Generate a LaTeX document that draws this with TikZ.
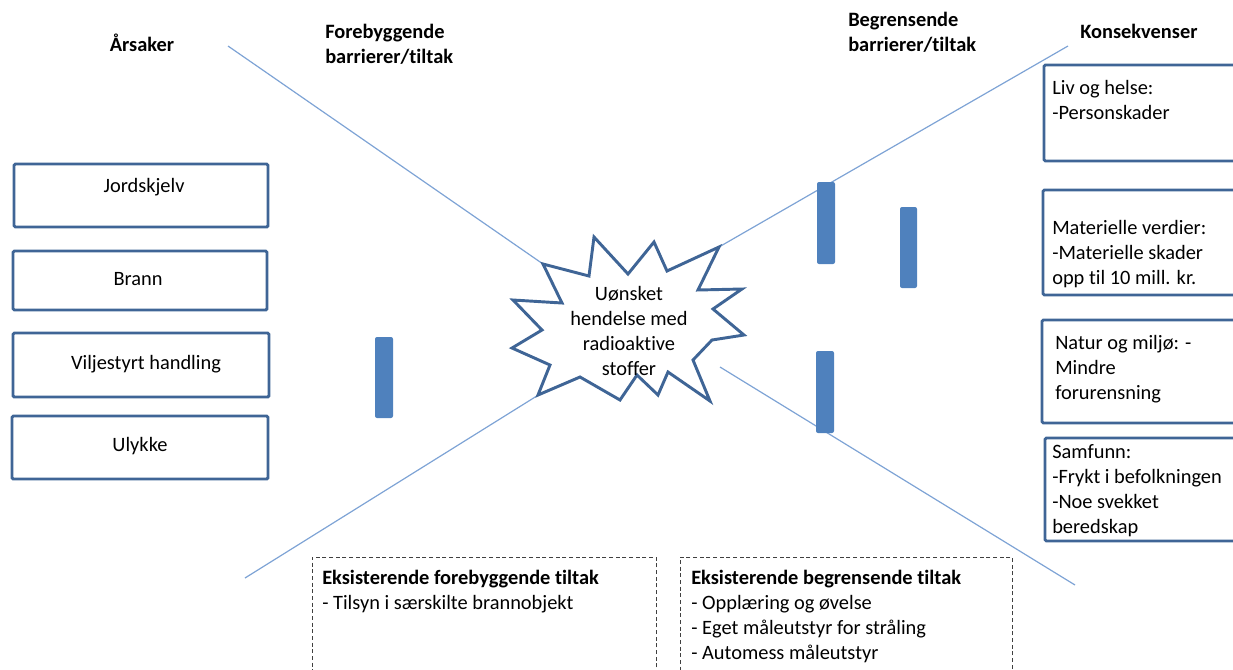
\documentclass[tikz,border=0pt]{standalone}
\usepackage{fontspec}
\setmainfont[Ligatures=NoCommon]{Carlito}
\usepackage{tikz}
\usetikzlibrary{fit}
\definecolor{boxblue}{HTML}{3F6596}
\definecolor{barblue}{HTML}{4F81BD}
\definecolor{lineblue}{HTML}{7EA3D5}

\begin{document}
\begin{tikzpicture}[x=0.75pt, y=-0.75pt, font=\fontsize{15.3}{18.75}\selectfont,
		box_style/.style={draw=boxblue, line width=2.2pt, rounded corners=1pt, inner sep=0pt},
		bar_style/.style={fill=barblue, draw=none, rounded corners=1.5pt, inner sep=0pt},
		dash_style/.style={draw=black!75, line width=0.7pt, dash pattern=on 3pt off 2pt, inner sep=0pt},
		line_style/.style={draw=lineblue, line width=0.9pt},
		star_style/.style={draw=boxblue, fill=white, line width=2.2pt},
		head_style/.style={font=\fontsize{15.3}{18.75}\selectfont\bfseries, inner sep=0pt, align=left, anchor=base west},
		text_style/.style={inner sep=0pt, align=left, anchor=base west}]
		\useasboundingbox (0,0) rectangle (1233,669);
		\clip (0,0) rectangle (1233,669);

		% headings
		\node[head_style, anchor=base] (arsaker) at (142,51) {Årsaker};
		\node[head_style] (forebyg) at (325,63) {Forebyggende\\barrierer/tiltak};
		\node[head_style] (begrens) at (848,51) {Begrensende\\barrierer/tiltak};
		\node[head_style] (konsek) at (1080,38) {Konsekvenser};

		% diagonals
		\coordinate (c_tl) at (228,46);
		\coordinate (c_bl) at (245,578);
		\coordinate (c_tr) at (1068,46);
		\coordinate (c_br) at (1075,585);
		\coordinate (st_tl) at (543,264);
		\coordinate (st_bl) at (540,394);
		\coordinate (st_tr) at (719,247);
		\coordinate (st_br) at (720,367);
		\draw[line_style] (c_tl) -- (st_tl);
		\draw[line_style] (c_bl) -- (st_bl);
		\draw[line_style] (c_tr) -- (st_tr);
		\draw[line_style] (c_br) -- (st_br);

		% event
		\draw[star_style] (543,264) -- (589,276) -- (594,237) -- (628,274) -- (654,242) -- (667,271)
			-- (719,247) -- (698,290) -- (742,289) -- (713,309) -- (744,335) -- (712,340) -- (693,360)
			-- (710,401) -- (668,372) -- (658,395) -- (637,375) -- (620,400) -- (580,377) -- (538,395)
			-- (550,365) -- (512,348) -- (542,330) -- (513,300) -- (562,303) -- cycle;
		\node[inner sep=0pt, align=center] (event) at (629,331) {Uønsket\\hendelse med\\radioaktive\\stoffer};

		% barriers
		\node[bar_style, fit={(375,337) (393,418)}] (bar1) {};
		\node[bar_style, fit={(817,182) (835,264)}] (bar2) {};
		\node[bar_style, fit={(900,207) (917,288)}] (bar3) {};
		\node[bar_style, fit={(816,351) (834,433)}] (bar4) {};

		% causes
		\node[box_style, fit={(14,164) (268,227)}] (jord) {};
		\node[box_style, fit={(13,251) (267,310)}] (brann) {};
		\node[box_style, fit={(13,333) (269,397)}] (vilje) {};
		\node[box_style, fit={(12,416) (268,479)}] (ulykke) {};
		\node[inner sep=0pt] (jord_t) at (144,187) {Jordskjelv};
		\node[inner sep=0pt] (brann_t) at (138,279) {Brann};
		\node[inner sep=0pt] (vilje_t) at (146,364) {Viljestyrt handling};
		\node[inner sep=0pt] (ulykke_t) at (140,446) {Ulykke};

		% consequences
		\node[box_style, fit={(1044,65) (1245,161)}] (liv) {};
		\node[box_style, fit={(1043,190) (1245,295)}] (mat) {};
		\node[box_style, fit={(1042,320) (1245,423)}] (natur) {};
		\node[box_style, fit={(1045,438) (1245,541)}] (samf) {};
		\node[text_style] (liv_t) at (1052,119) {Liv og helse:\\-Personskader};
		\node[text_style] (mat_t) at (1052,284) {Materielle verdier:\\-Materielle skader\\opp til 10 mill. kr.};
		\node[text_style] (natur_t) at (1055,399) {Natur og miljø: -\\Mindre\\forurensning};
		\node[text_style] (samf_t) at (1052,533) {Samfunn:\\-Frykt i befolkningen\\-Noe svekket\\beredskap};

		% existing measures
		\node[dash_style, fit={(312,557) (656,690)}] (eksfor) {};
		\node[dash_style, fit={(680,557) (1012,690)}] (eksbeg) {};
		\node[text_style] (eksfor_t) at (322,609) {\textbf{Eksisterende forebyggende tiltak}\\- Tilsyn i særskilte brannobjekt};
		\node[text_style] (eksbeg_t) at (691,659) {\textbf{Eksisterende begrensende tiltak}\\- Opplæring og øvelse\\- Eget måleutstyr for stråling\\- Automess måleutstyr};
\end{tikzpicture}
\end{document}
